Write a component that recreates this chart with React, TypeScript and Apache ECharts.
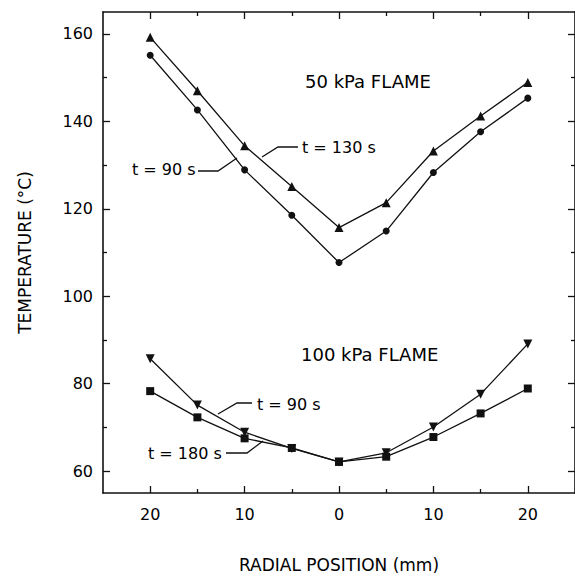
import React, { useEffect, useRef } from "react";
import * as echarts from "echarts";

// Radial positions (mm), left side negative (labelled by magnitude)
const positions = [-20, -15, -10, -5, 0, 5, 10, 15, 20];
// 50 kPa flame
const flame50_t130 = [159.2, 147.0, 134.4, 125.1, 115.7, 121.4, 133.2, 141.2, 148.9];
const flame50_t90 = [155.1, 142.6, 128.9, 118.5, 107.7, 114.9, 128.3, 137.6, 145.3];
// 100 kPa flame
const flame100_t90 = [85.7, 75.1, 68.9, 65.2, 62.1, 64.2, 70.1, 77.6, 89.1];
const flame100_t180 = [78.3, 72.3, 67.5, 65.3, 62.1, 63.3, 67.8, 73.2, 78.9];

const yMajorTicks = [60, 80, 100, 120, 140, 160];
const yMinorTicks = [70, 90, 110, 130, 150];
const xMajorTicks = [-20, -10, 0, 10, 20];
const xMinorTicks = [-15, -5, 5, 15];

const FONT = "DejaVu Sans";
const INK = "#111";

function pairs(ys: number[]) {
  return positions.map((x, i) => [x, ys[i]]);
}

export default function App() {
  const ref = useRef<HTMLDivElement>(null);
  useEffect(() => {
    if (!ref.current) return;
    const chart = echarts.init(ref.current, undefined, { renderer: "svg" });
    const lineSeries = (name: string, ys: number[], symbol: string, size: number, rotate = 0) => ({
      name,
      type: "line",
      data: pairs(ys),
      symbol,
      symbolSize: size,
      symbolRotate: rotate,
      showSymbol: true,
      lineStyle: { color: INK, width: 1.3 },
      itemStyle: { color: INK, borderWidth: 0 },
      z: 5,
    });
    const xBase = { type: "value", min: -25, max: 25, splitLine: { show: false } };
    const yBase = { type: "value", min: 55, max: 165, splitLine: { show: false } };
    const axisLine = { show: true, onZero: false, lineStyle: { color: INK, width: 1.6 } };
    const noLine = { show: false, onZero: false };
    const label = (vals: number[], margin: number, fmt?: (v: number) => string) => ({
      show: true,
      customValues: vals,
      margin,
      color: "#000",
      fontFamily: FONT,
      fontSize: 16,
      formatter: fmt,
    });
    const tick = (vals: number[], len: number) => ({
      show: true,
      inside: true,
      length: len,
      customValues: vals,
      lineStyle: { color: INK, width: 1.3 },
    });
    chart.setOption({
      animation: false,
      grid: { left: 103, top: 12, width: 479, height: 481, containLabel: false },
      xAxis: [
        {
          ...xBase,
          position: "bottom",
          axisLine,
          axisTick: tick(xMajorTicks, 7),
          axisLabel: label(xMajorTicks, 13, (v: number) => String(Math.abs(v))),
          name: "RADIAL POSITION (mm)",
          nameLocation: "middle",
          nameGap: 63,
          nameTextStyle: { color: "#000", fontFamily: FONT, fontSize: 17 },
        },
        { ...xBase, position: "bottom", axisLine: noLine, axisTick: tick(xMinorTicks, 4), axisLabel: { show: false } },
        { ...xBase, position: "top", axisLine, axisTick: tick(xMajorTicks, 7), axisLabel: { show: false } },
        { ...xBase, position: "top", axisLine: noLine, axisTick: tick(xMinorTicks, 4), axisLabel: { show: false } },
      ],
      yAxis: [
        {
          ...yBase,
          position: "left",
          axisLine,
          axisTick: tick(yMajorTicks, 7),
          axisLabel: label(yMajorTicks, 10),
          name: "TEMPERATURE (°C)",
          nameLocation: "middle",
          nameGap: 70,
          nameRotate: 90,
          nameTextStyle: { color: "#000", fontFamily: FONT, fontSize: 17 },
        },
        { ...yBase, position: "left", axisLine: noLine, axisTick: tick(yMinorTicks, 4), axisLabel: { show: false } },
        { ...yBase, position: "right", axisLine, axisTick: tick(yMajorTicks, 7), axisLabel: { show: false } },
        { ...yBase, position: "right", axisLine: noLine, axisTick: tick(yMinorTicks, 4), axisLabel: { show: false } },
      ],
      series: [
        lineSeries("50 kPa, t = 130 s", flame50_t130, "triangle", 9),
        lineSeries("50 kPa, t = 90 s", flame50_t90, "circle", 7),
        lineSeries("100 kPa, t = 90 s", flame100_t90, "triangle", 9, 180),
        lineSeries("100 kPa, t = 180 s", flame100_t180, "rect", 8),
      ],
      graphic: [
        { type: "text", left: 305, top: 72, style: { text: "50 kPa FLAME", fill: "#000", font: `18px "${FONT}"` } },
        { type: "text", left: 301, top: 345, style: { text: "100 kPa FLAME", fill: "#000", font: `18px "${FONT}"` } },
        { type: "text", left: 302, top: 139, style: { text: "t = 130 s", fill: "#000", font: `16px "${FONT}"` } },
        { type: "text", left: 132, top: 161, style: { text: "t = 90 s", fill: "#000", font: `16px "${FONT}"` } },
        { type: "text", left: 257, top: 396, style: { text: "t = 90 s", fill: "#000", font: `16px "${FONT}"` } },
        { type: "text", left: 148, top: 445, style: { text: "t = 180 s", fill: "#000", font: `16px "${FONT}"` } },
        { type: "polyline", shape: { points: [[262, 157], [278, 147], [298, 147]] }, style: { stroke: INK, lineWidth: 1.3, fill: "none" } },
        { type: "polyline", shape: { points: [[198, 171], [218, 171], [237, 158]] }, style: { stroke: INK, lineWidth: 1.3, fill: "none" } },
        { type: "polyline", shape: { points: [[218, 414], [237, 403], [252, 403]] }, style: { stroke: INK, lineWidth: 1.3, fill: "none" } },
        { type: "polyline", shape: { points: [[226, 453], [247, 453], [263, 441]] }, style: { stroke: INK, lineWidth: 1.3, fill: "none" } },
      ],
    });
    return () => chart.dispose();
  }, []);
  return (
    <div
      ref={ref}
      style={{ position: "absolute", left: 0, top: 0, width: 575, height: 578, background: "#fff" }}
    />
  );
}
